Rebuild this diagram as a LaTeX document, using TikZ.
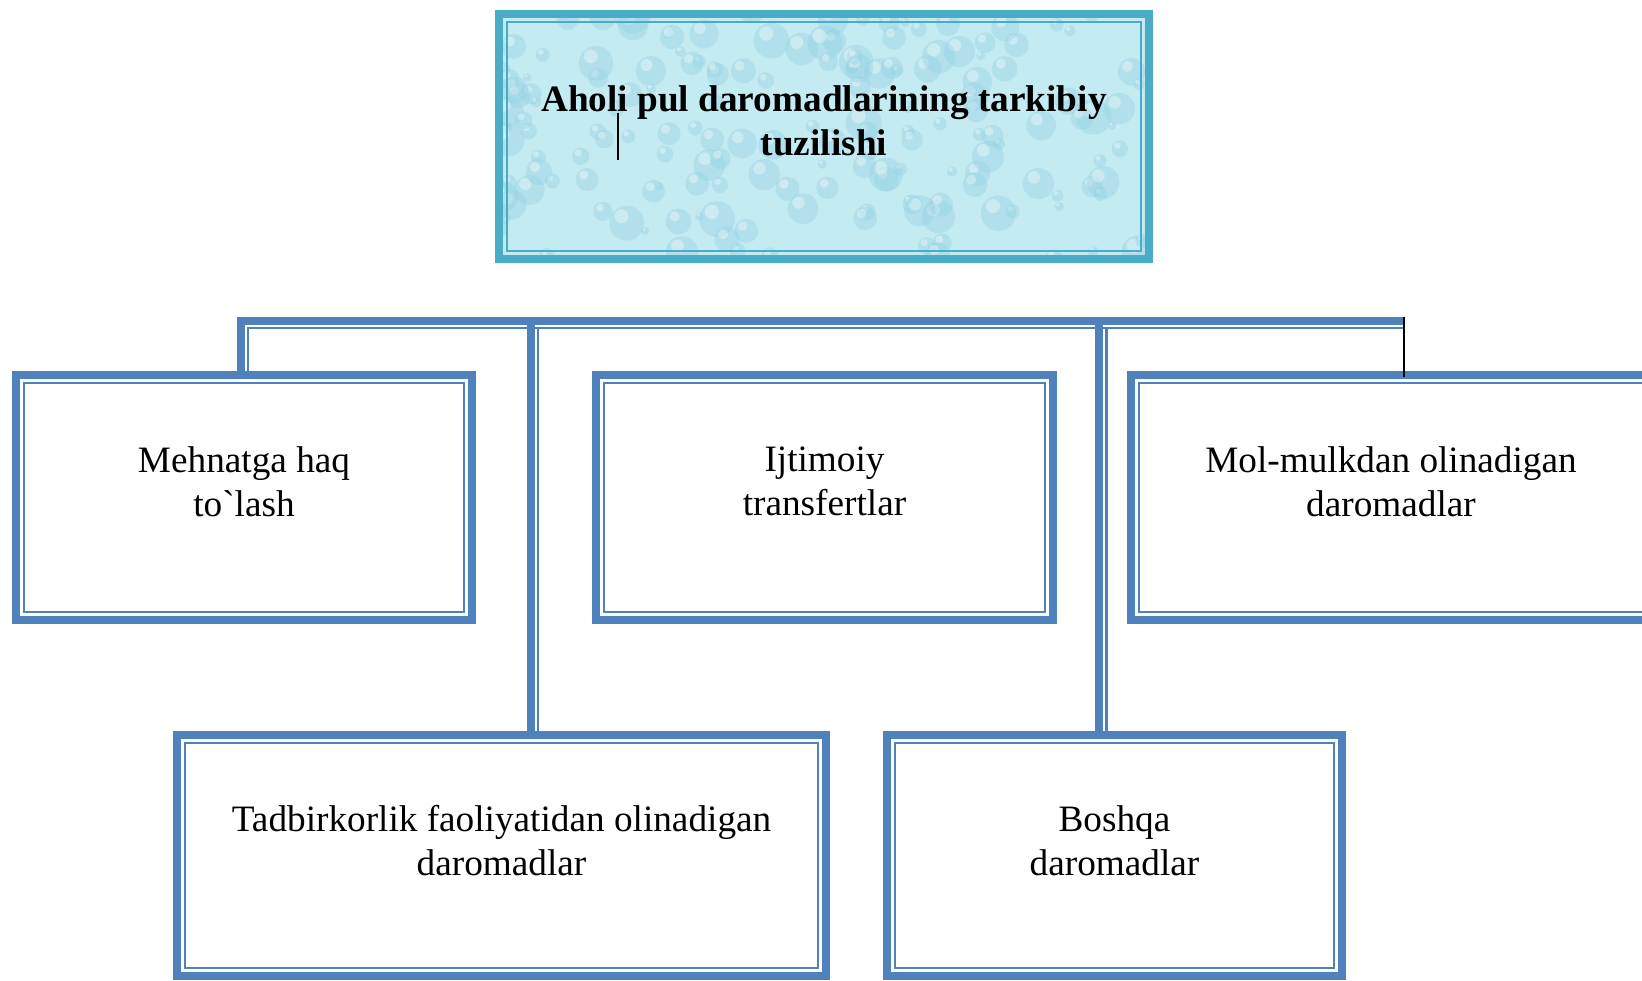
\documentclass[tikz,border=0pt]{standalone}
\usepackage{fontspec}
\setmainfont{Liberation Serif}
\newfontfamily\oddiy{Liberation Serif}
\usepackage{xcolor}
\usepackage{tikz}
\definecolor{kok}{HTML}{4F81BD}
\definecolor{moviy}{HTML}{4BACC6}
\definecolor{suv}{HTML}{C4EAF2}
\definecolor{tomchi}{HTML}{8FD0E2}

\begin{document}
\begin{tikzpicture}[x=0.02cm,y=-0.02cm,
  quti/.style={draw=kok,line width=0.16cm,inner sep=0pt,outer sep=0pt,minimum height=4.9cm},
  qalin/.style={draw=kok,line width=0.16cm},
  ingichka/.style={draw=kok,line width=0.055cm},
  matn/.style={align=center,font=\fontsize{21.2}{25}\selectfont}]
\clip (0,0) rectangle (1642,980);

% sarlavha
\node[quti,draw=moviy,fill=suv,minimum width=13cm] (sarlavha) at (824,136.5) {};
\begin{scope}
\clip (sarlavha.north west) rectangle (sarlavha.south east);
\pgfmathsetseed{11}
\foreach \i in {1,...,170}{
  \pgfmathsetmacro{\tx}{499+650*rnd}
  \pgfmathsetmacro{\ty}{14+245*rnd}
  \pgfmathsetmacro{\tr}{4+14*rnd}
  \fill[tomchi,opacity=0.35] (\tx,\ty) circle[radius=\tr*0.02cm];
  \fill[white,opacity=0.35] (\tx-\tr*0.3,\ty-\tr*0.4) circle[radius=\tr*0.008cm];
}
\end{scope}
\draw[line width=0.16cm,draw=moviy] (sarlavha.north west) rectangle (sarlavha.south east);
\draw[ingichka,draw=moviy] ([shift={(8,8)}]sarlavha.north west) rectangle ([shift={(-8,-8)}]sarlavha.south east);
\node[matn,font=\fontsize{21.2}{25}\selectfont\bfseries] (tsarlavha) at ([yshift=0.32cm]sarlavha.center)
  {Aholi pul daromadlarining tarkibiy\\tuzilishi};
\draw[line width=0.03cm] (618,113) -- (618,160);

% quyi qutilar
\node[quti,minimum width=9.12cm] (mehnat) at (244,497.5) {};
\node[quti,minimum width=9.14cm] (ijtimoiy) at (824.5,497.5) {};
\node[quti,minimum width=10.4cm] (mulk) at (1391,497.5) {};
\node[quti,minimum width=12.98cm,minimum height=4.82cm] (tadbir) at (501.5,855.5) {};
\node[quti,minimum width=9.1cm,minimum height=4.82cm] (boshqa) at (1114.5,855.5) {};

\draw[ingichka] ([shift={(8,8)}]mehnat.north west) rectangle ([shift={(-8,-8)}]mehnat.south east);
\draw[ingichka] ([shift={(8,8)}]ijtimoiy.north west) rectangle ([shift={(-8,-8)}]ijtimoiy.south east);
\draw[ingichka] ([shift={(8,8)}]mulk.north west) rectangle ([shift={(-8,-8)}]mulk.south east);
\draw[ingichka] ([shift={(8,8)}]tadbir.north west) rectangle ([shift={(-8,-8)}]tadbir.south east);
\draw[ingichka] ([shift={(8,8)}]boshqa.north west) rectangle ([shift={(-8,-8)}]boshqa.south east);

\node[matn] (tmehnat) at ([yshift=0.32cm]mehnat.center) {Mehnatga haq\\to{\oddiy\symbol{96}}lash};
\node[matn] (tijtimoiy) at ([yshift=0.32cm]ijtimoiy.center) {Ijtimoiy\\transfertlar};
\node[matn] (tmulk) at ([yshift=0.32cm]mulk.center) {Mol-mulkdan olinadigan\\daromadlar};
\node[matn] (ttadbir) at ([yshift=0.29cm]tadbir.center) {Tadbirkorlik faoliyatidan olinadigan\\daromadlar};
\node[matn] (tboshqa) at ([yshift=0.29cm]boshqa.center) {Boshqa\\daromadlar};

% tutashtiruvchi chiziqlar
\coordinate (chapA) at (241,320.5);
\coordinate (ongA) at (1404,320.5);
\coordinate (chapB) at (248,328);
\coordinate (ongB) at (1404,328);
\coordinate (ortaA) at (531,320.5);
\coordinate (ortaB) at (538,328);
\coordinate (ikkiA) at (1099,320.5);
\coordinate (ikkiB) at (1106.5,328);
\coordinate (qora) at (1404,317);

\draw[qalin] (mehnat.north -| chapA) -- (chapA) -- (ongA);
\draw[ingichka] (mehnat.north -| chapB) -- (chapB) -- (ongB);
\draw[qalin] (ortaA) -- (ortaA |- tadbir.north);
\draw[ingichka] (ortaB) -- (ortaB |- tadbir.north);
\draw[qalin] (ikkiA) -- (ikkiA |- boshqa.north);
\draw[ingichka] (ikkiB) -- (ikkiB |- boshqa.north);
\draw[line width=0.03cm] (qora) -- ([yshift=-0.04cm]qora |- mulk.north);
\end{tikzpicture}
\end{document}
